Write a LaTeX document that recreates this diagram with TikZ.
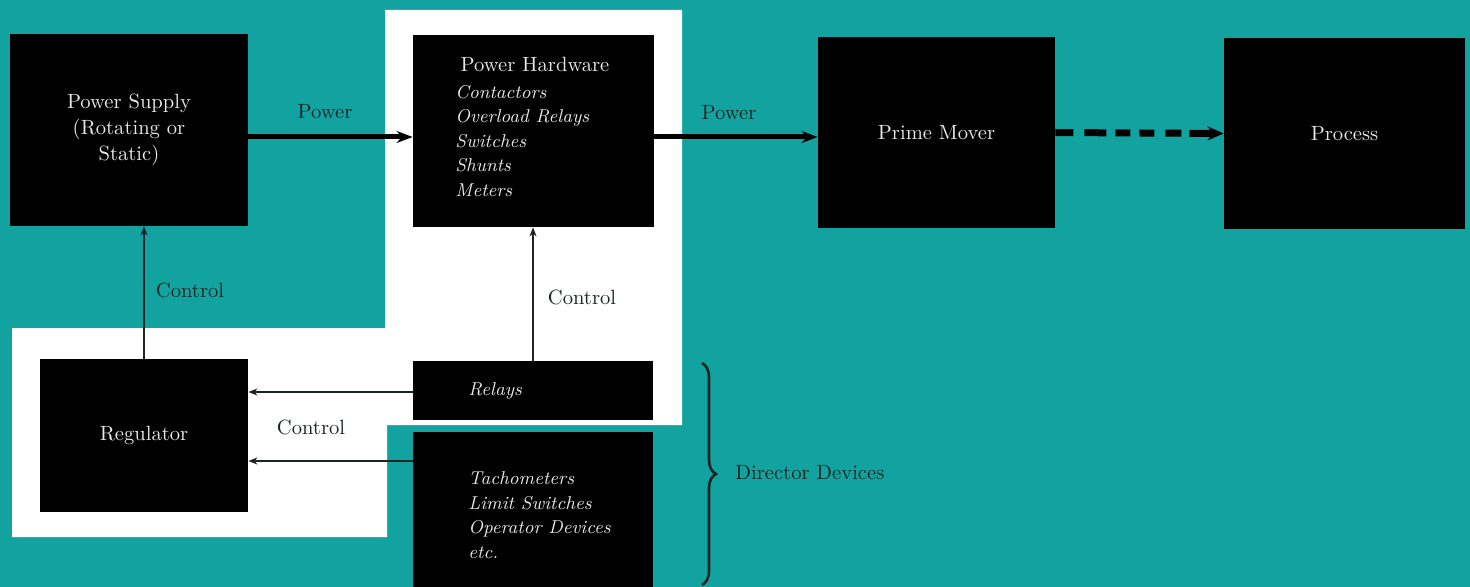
\documentclass[tikz,border=0pt]{standalone}
\usetikzlibrary{arrows.meta,decorations.pathreplacing}
\definecolor{teal1}{RGB}{18,163,160}
\definecolor{ink}{RGB}{28,36,36}
\definecolor{boxtext}{RGB}{232,232,232}
\begin{document}
\begin{tikzpicture}[x=0.5pt,y=-0.5pt,
  blk/.style={fill=black, draw=none, text=boxtext, font=\fontsize{10.3}{13}\selectfont, align=center, inner sep=0pt},
  lbl/.style={text=ink, font=\fontsize{10.3}{13}\selectfont, inner sep=0pt},
  wtx/.style={text=boxtext, font=\fontsize{10.3}{13}\selectfont, inner sep=0pt},
  itl/.style={text=boxtext, font=\fontsize{9.3}{12.25}\selectfont\itshape, align=left, inner sep=0pt, anchor=west},
  pwr/.style={draw=black, line width=2.5pt, -{Stealth[length=8pt,width=6pt]}},
  ctl/.style={draw=ink, line width=0.8pt, -{Stealth[length=4.5pt,width=3.5pt]}}]

\fill[teal1] (0,0) rectangle (1470,587);
\useasboundingbox (0,0) rectangle (1470,587);
\fill[white] (385,10) -- (682,10) -- (682,425) -- (387,425) -- (387,537) -- (12,537) -- (12,328) -- (385,328) -- cycle;

% boxes
\node[blk, minimum width=119pt, minimum height=96pt] (ps) at (129,130) {Power Supply\\(Rotating or\\Static)};
\node[blk, minimum width=120.5pt, minimum height=96pt] (ph) at (533.5,131) {};
\node[blk, minimum width=118.5pt, minimum height=95.5pt] (pm) at (936.5,132.5) {Prime Mover};
\node[blk, minimum width=120.5pt, minimum height=95.5pt] (pr) at (1344.5,133.5) {Process};
\node[blk, minimum width=104pt, minimum height=76.5pt] (rg) at (144,435.5) {Regulator};
\node[blk, minimum width=120pt, minimum height=29.5pt] (rl) at (533,390.5) {};
\node[blk, minimum width=120pt, minimum height=77.5pt] (td) at (533,509.5) {};

% texts inside boxes
\node[wtx] (phtitle) at (535,64) {Power Hardware};
\node[itl] (phlist) at (455,141) {Contactors\\Overload Relays\\Switches\\Shunts\\Meters};
\node[itl] (rltxt) at (468,391) {Relays};
\node[itl] (tdlist) at (468,515) {Tachometers\\Limit Switches\\Operator Devices\\etc.};

% labels
\node[lbl] (lp1) at (325,112) {Power};
\node[lbl] (lp2) at (729,113) {Power};
\node[lbl] (lc1) at (190,290) {Control};
\node[lbl] (lc2) at (582,297) {Control};
\node[lbl] (lc3) at (311,427) {Control};
\node[lbl, anchor=west] (dd) at (735,473) {Director Devices};

% power connectors
\draw[pwr] ([yshift=-3.5pt]ps.east) -- ([yshift=-3pt]ph.west);
\draw[pwr] ([yshift=-3pt]ph.east) -- ([yshift=-2.25pt]pm.west);
\draw[draw=black, line width=3.5pt,
  dash pattern=on 9pt off 5.5pt on 11pt off 4.5pt on 7.5pt off 4.5pt on 7.5pt off 5.5pt on 8pt off 4pt on 40pt off 0.1pt,
  -{Stealth[length=8pt,width=7pt]}] (pm.east) -- (pr.west);

% control connectors
\draw[ctl] (rg.north) -- (rg.north |- ps.south);
\draw[ctl] (rl.north) -- (rl.north |- ph.south);
\coordinate (rlout) at ([yshift=-0.75pt]rl.west);
\draw[ctl] (rlout) -- (rlout -| rg.east);
\coordinate (tdout) at ([yshift=24.25pt]td.west);
\draw[ctl] (tdout) -- (tdout -| rg.east);

% brace
\coordinate (bt) at (702,363);
\coordinate (bb) at (702,585);
\draw[ink, line width=1.3pt, decorate, decoration={brace, amplitude=7pt}] (bt) -- (bb);
\end{tikzpicture}
\end{document}
